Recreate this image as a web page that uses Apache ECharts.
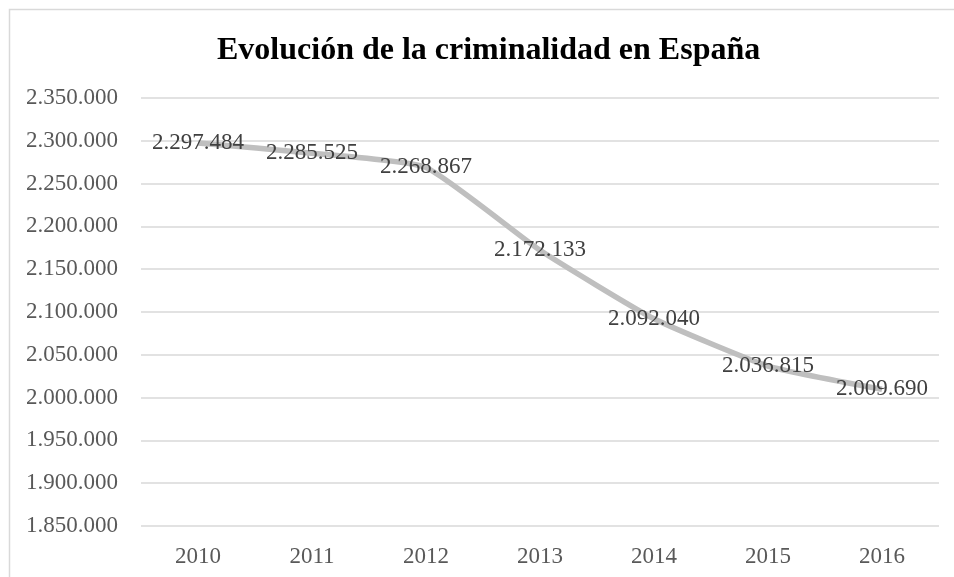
<!DOCTYPE html>
<html>
<head>
<meta charset="utf-8">
<script src="https://cdn.jsdelivr.net/npm/echarts@6/dist/echarts.min.js"></script>
<style>html,body{margin:0;padding:0;background:#fff;}#c{width:954px;height:577px;}</style>
</head>
<body>
<div id="c"></div>
<script>
const years = ['2010','2011','2012','2013','2014','2015','2016'];
const delitos = [2297484, 2285525, 2268867, 2172133, 2092040, 2036815, 2009690];
const yMin = 1850000, yMax = 2350000, yStep = 50000;

function fmt(v){ return String(Math.round(v)).replace(/\B(?=(\d{3})+(?!\d))/g, '.'); }

const chart = echarts.init(document.getElementById('c'));
const serif = '"Liberation Serif", "Times New Roman", serif';
chart.setOption({
  backgroundColor: '#ffffff',
  animation: false,
  graphic: [{
    type: 'rect', left: 7, top: 7,
    shape: { width: 960, height: 600 },
    style: { fill: 'none', stroke: '#d9d9d9', lineWidth: 1.5 },
    silent: true
  }],
  title: {
    text: 'Evolución de la criminalidad en España',
    left: 212, top: 30,
    textStyle: { fontFamily: serif, fontWeight: 'bold', fontSize: 32, color: '#000000' }
  },
  grid: { left: 141, right: 15, top: 98, bottom: 51, containLabel: false },
  xAxis: {
    type: 'category', data: years, boundaryGap: true,
    axisLine: { show: false }, axisTick: { show: false },
    axisLabel: { fontFamily: serif, fontSize: 23, color: '#595959', margin: 19 }
  },
  yAxis: {
    type: 'value', min: yMin, max: yMax, interval: yStep,
    axisLine: { show: false }, axisTick: { show: false },
    axisLabel: { fontFamily: serif, fontSize: 23, color: '#595959', margin: 23, formatter: fmt },
    splitLine: { lineStyle: { color: '#d9d9d9', width: 1.5 } }
  },
  series: [{
    type: 'line', data: delitos, smooth: 0.15,
    symbol: 'circle', symbolSize: 2, showSymbol: true,
    itemStyle: { color: 'rgba(191,191,191,0)', borderWidth: 0 },
    lineStyle: { color: '#bfbfbf', width: 5.5 },
    labelLayout: { hideOverlap: false },
    label: {
      show: true, position: 'inside', offset: [0, 2],
      fontFamily: serif, fontSize: 23, color: '#404040',
      formatter: p => fmt(p.value)
    }
  }]
});
</script>
</body>
</html>
